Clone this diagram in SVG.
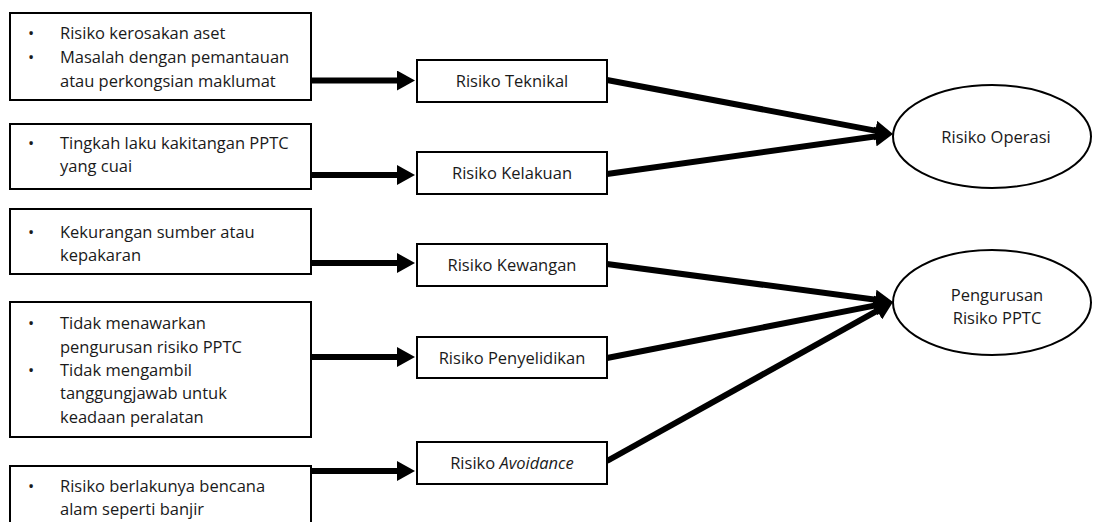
<svg xmlns="http://www.w3.org/2000/svg" width="1094" height="522" viewBox="0 0 1094 522">
<style>
.box{fill:#fff;stroke:#000;stroke-width:2}
.ell{fill:#fff;stroke:#000;stroke-width:2}
.t{font-family:"Open Sans","Liberation Sans",sans-serif;font-size:16.5px;fill:#1a1a1a}
.c{text-anchor:middle}
.con{stroke:#000;stroke-width:6;fill:none}
</style>
<defs>
<marker id="ah" viewBox="0 0 18 20" refX="12" refY="10" markerWidth="18" markerHeight="20" markerUnits="userSpaceOnUse" orient="auto">
<path d="M0,0 L18,10 L0,20 z" fill="#000"/>
</marker>
</defs>
<rect width="1094" height="522" fill="#fff"/>
<g id="connectors">
<line class="con" x1="311" y1="80.5" x2="409" y2="80.5" marker-end="url(#ah)"/>
<line class="con" x1="311" y1="175" x2="409" y2="175" marker-end="url(#ah)"/>
<line class="con" x1="311" y1="263" x2="409" y2="263" marker-end="url(#ah)"/>
<line class="con" x1="311" y1="357" x2="409" y2="357" marker-end="url(#ah)"/>
<line class="con" x1="311" y1="471" x2="409" y2="471" marker-end="url(#ah)"/>
<line class="con" x1="607" y1="80" x2="887.1" y2="132.9" marker-end="url(#ah)"/>
<line class="con" x1="607" y1="174" x2="887.06" y2="134.83" marker-end="url(#ah)"/>
<line class="con" x1="607" y1="264" x2="887.05" y2="301.2" marker-end="url(#ah)"/>
<line class="con" x1="607" y1="358" x2="887.1" y2="303.15" marker-end="url(#ah)"/>
<line class="con" x1="607" y1="461" x2="887.76" y2="304.9" marker-end="url(#ah)"/>
</g>
<g id="src1">
<rect class="box" x="10" y="13" width="301" height="87"/>
<text class="t c" x="31" y="39">•</text><text class="t" x="60" y="39">Risiko kerosakan aset</text>
<text class="t c" x="31" y="63">•</text><text class="t" x="60" y="63">Masalah dengan pemantauan</text>
<text class="t" x="60" y="87">atau perkongsian maklumat</text>
</g>
<g id="src2">
<rect class="box" x="10" y="124" width="301" height="65"/>
<text class="t c" x="31" y="149">•</text><text class="t" x="60" y="149">Tingkah laku kakitangan PPTC</text>
<text class="t" x="60" y="172">yang cuai</text>
</g>
<g id="src3">
<rect class="box" x="10" y="209" width="301" height="65"/>
<text class="t c" x="31" y="238">•</text><text class="t" x="60" y="238">Kekurangan sumber atau</text>
<text class="t" x="60" y="261">kepakaran</text>
</g>
<g id="src4">
<rect class="box" x="10" y="302" width="301" height="135"/>
<text class="t c" x="31" y="329">•</text><text class="t" x="60" y="329">Tidak menawarkan</text>
<text class="t" x="60" y="353">pengurusan risiko PPTC</text>
<text class="t c" x="31" y="376">•</text><text class="t" x="60" y="376">Tidak mengambil</text>
<text class="t" x="60" y="399">tanggungjawab untuk</text>
<text class="t" x="60" y="423">keadaan peralatan</text>
</g>
<g id="src5">
<rect class="box" x="10" y="466" width="301" height="70"/>
<text class="t c" x="31" y="492">•</text><text class="t" x="60" y="492">Risiko berlakunya bencana</text>
<text class="t" x="60" y="515">alam seperti banjir</text>
</g>
<g id="teknikal">
<rect class="box" x="417" y="60" width="190" height="42"/>
<text class="t c" x="512" y="87">Risiko Teknikal</text>
</g>
<g id="kelakuan">
<rect class="box" x="417" y="152" width="190" height="42"/>
<text class="t c" x="512" y="179">Risiko Kelakuan</text>
</g>
<g id="kewangan">
<rect class="box" x="417" y="244" width="190" height="42"/>
<text class="t c" x="512" y="271">Risiko Kewangan</text>
</g>
<g id="penyelidikan">
<rect class="box" x="417" y="337" width="190" height="41"/>
<text class="t c" x="512" y="364">Risiko Penyelidikan</text>
</g>
<g id="avoidance">
<rect class="box" x="417" y="442" width="190" height="42"/>
<text class="t c" x="512" y="469">Risiko <tspan font-style="italic">Avoidance</tspan></text>
</g>
<g id="operasi">
<ellipse class="ell" cx="992" cy="136.5" rx="99" ry="51.5"/>
<text class="t c" x="996" y="143">Risiko Operasi</text>
</g>
<g id="pengurusan">
<ellipse class="ell" cx="992" cy="302.5" rx="99" ry="52.5"/>
<text class="t c" x="997" y="301">Pengurusan</text>
<text class="t c" x="997" y="324">Risiko PPTC</text>
</g>
</svg>
